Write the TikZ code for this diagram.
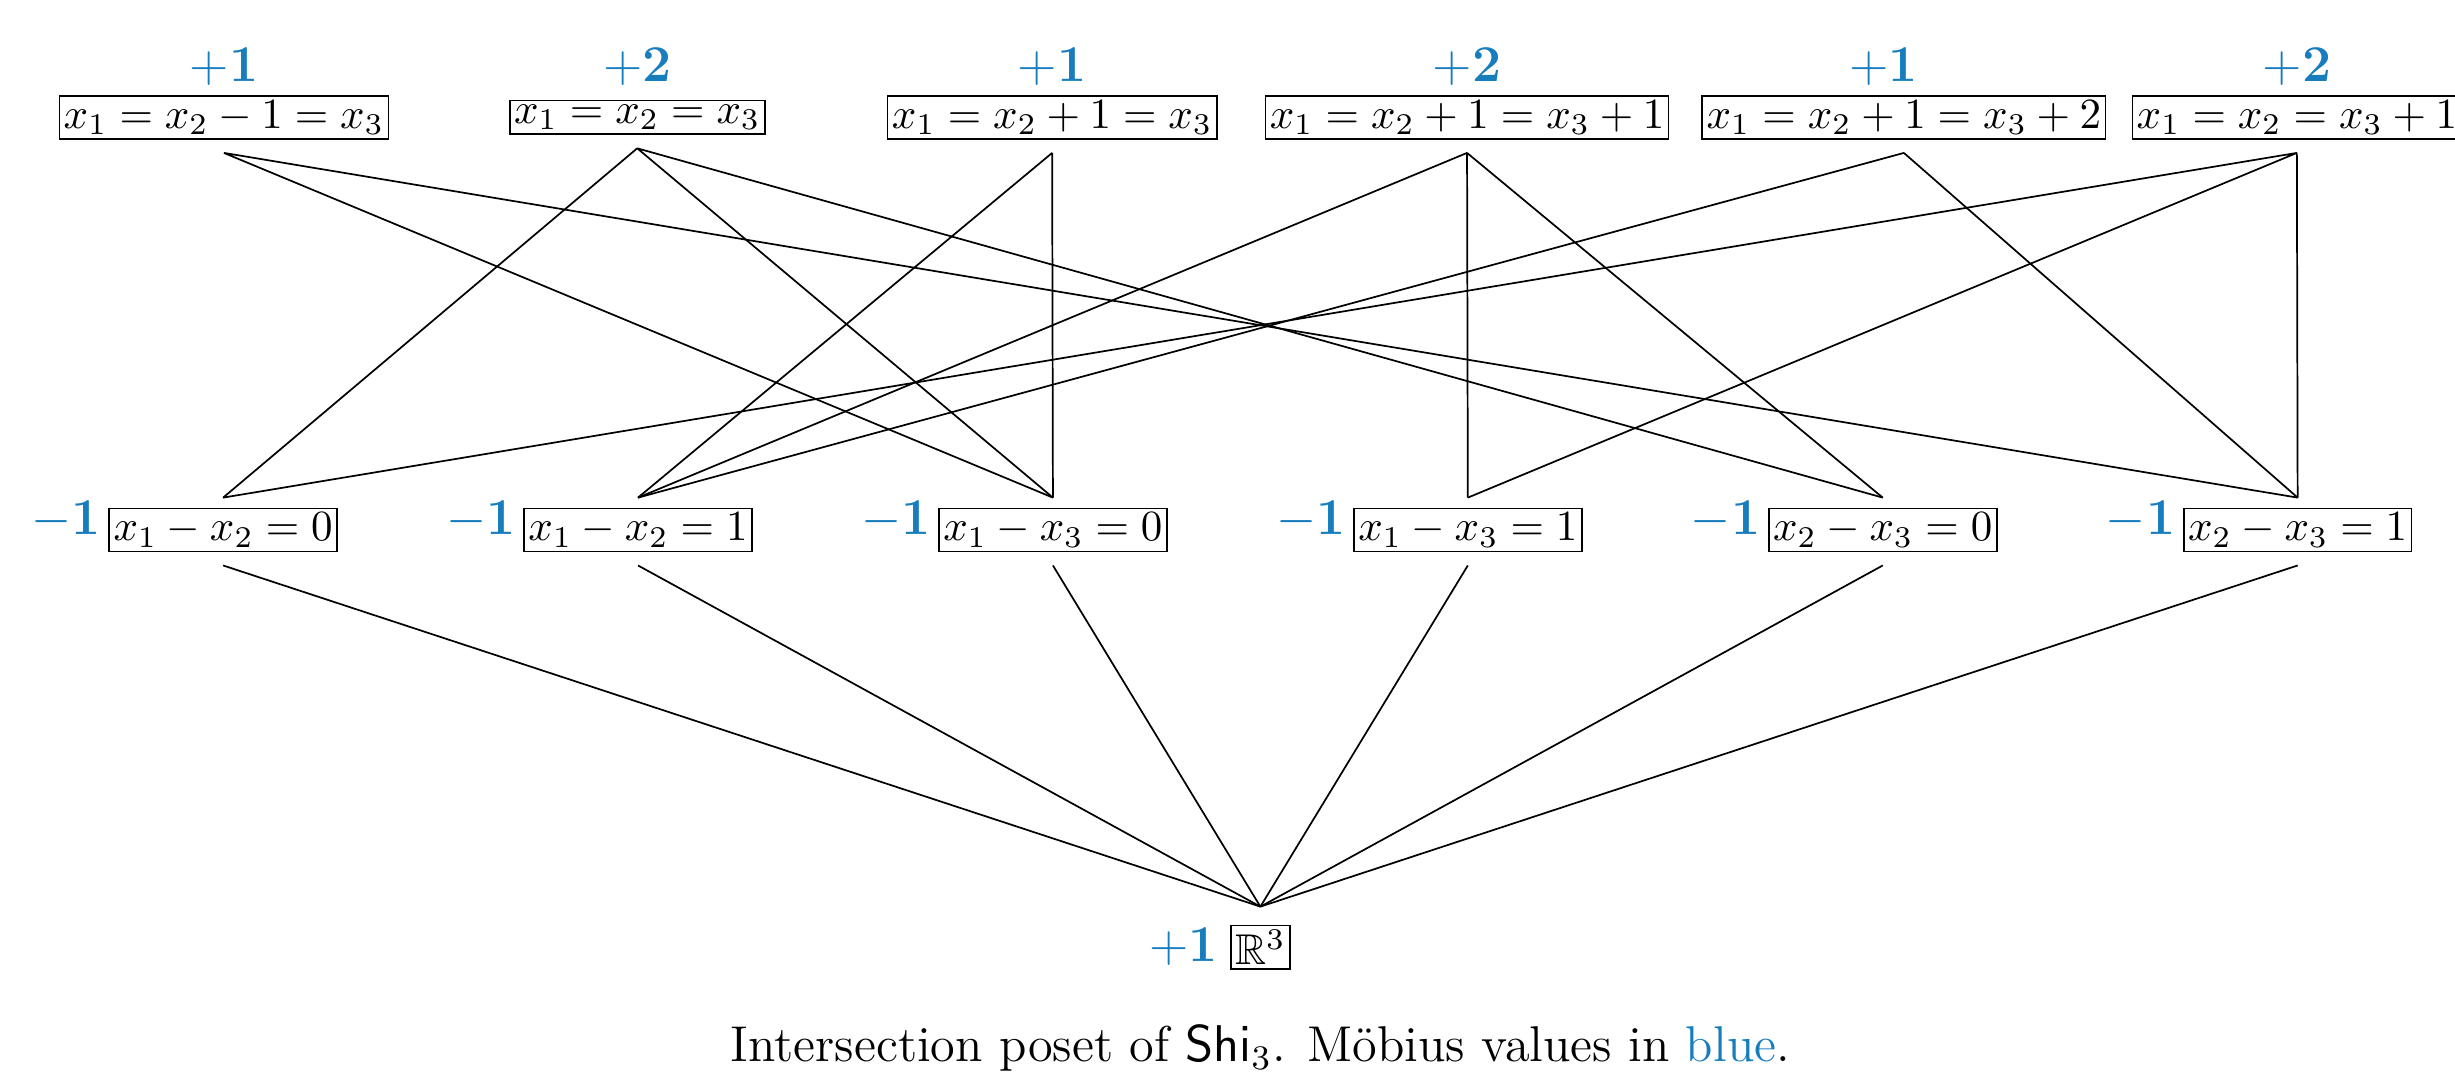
\documentclass[tikz,border=0pt]{standalone}
\usepackage{amssymb}
\usetikzlibrary{calc}
\definecolor{mblue}{RGB}{24,125,189}
\begin{document}
\begin{tikzpicture}[x=0.364pt,y=-0.364pt,
  poset/.style={draw, line width=0.4pt, inner sep=1pt, outer sep=0pt},
  mob/.style={text=mblue, font=\large, inner sep=0pt},
  edge/.style={line width=0.4pt}]
\useasboundingbox (0,0) rectangle (1568,690);
% top row
\node[poset] (T1) at (143,75) {$x_1=x_2-1=x_3$};
\node[poset] (T2) at (407,75) {$x_1=x_2=x_3$};
\node[poset] (T3) at (672,75) {$x_1=x_2+1=x_3$};
\node[poset] (T4) at (937,75) {$x_1=x_2+1=x_3+1$};
\node[poset] (T5) at (1216,75) {$x_1=x_2+1=x_3+2$};
\node[poset] (T6) at (1467,75) {$x_1=x_2=x_3+1$};
\node[mob, anchor=base] (LT1) at (143,52) {$+\mathbf{1}$};
\node[mob, anchor=base] (LT2) at (407,52) {$+\mathbf{2}$};
\node[mob, anchor=base] (LT3) at (672,52) {$+\mathbf{1}$};
\node[mob, anchor=base] (LT4) at (937,52) {$+\mathbf{2}$};
\node[mob, anchor=base] (LT5) at (1203,52) {$+\mathbf{1}$};
\node[mob, anchor=base] (LT6) at (1467,52) {$+\mathbf{2}$};
% middle row
\node[poset] (M1) at (142.5,338.5) {$x_1-x_2=0$};
\node[poset] (M2) at (407.5,338.5) {$x_1-x_2=1$};
\node[poset] (M3) at (672.5,338.5) {$x_1-x_3=0$};
\node[poset] (M4) at (937.5,338.5) {$x_1-x_3=1$};
\node[poset] (M5) at (1202.5,338.5) {$x_2-x_3=0$};
\node[poset] (M6) at (1467.5,338.5) {$x_2-x_3=1$};
\foreach \m in {M1,M2,M3,M4,M5,M6}{
  \node[mob, anchor=base east] (L\m) at ($(\m.base west)+(-5,-4)$) {$-\mathbf{1}$};
}
% bottom
\node[poset] (R) at (805,605) {$\mathbb{R}^3$};
\node[mob, anchor=base east] (LR) at ($(R.base west)+(-8,-2)$) {$+\mathbf{1}$};
% connector end points
\foreach \t in {T1,T2,T3,T4,T5,T6}{
  \coordinate (\t b) at ($(\t.south)+(0,9)$);
}
\foreach \m in {M1,M2,M3,M4,M5,M6}{
  \coordinate (\m t) at ($(\m.north)+(0,-7)$);
  \coordinate (\m b) at ($(\m.south)+(0,9)$);
}
\coordinate (Rt) at ($(R.north)+(0,-12)$);
% edges top -> middle
\draw[edge] (T1b) -- (M3t) (T1b) -- (M6t);
\draw[edge] (T2b) -- (M1t) (T2b) -- (M3t) (T2b) -- (M5t);
\draw[edge] (T3b) -- (M2t) (T3b) -- (M3t);
\draw[edge] (T4b) -- (M2t) (T4b) -- (M4t) (T4b) -- (M5t);
\draw[edge] (T5b) -- (M2t) (T5b) -- (M6t);
\draw[edge] (T6b) -- (M1t) (T6b) -- (M4t) (T6b) -- (M6t);
% edges middle -> bottom
\foreach \m in {M1,M2,M3,M4,M5,M6}{
  \draw[edge] (\m b) -- (Rt);
}
% caption
\node[anchor=base, font=\fontsize{11.7}{14}\selectfont, inner sep=0pt] (cap) at (805,678)
  {Intersection poset of $\mathsf{Shi}_3$. M\"obius values in \textcolor{mblue}{blue}.};
\end{tikzpicture}
\end{document}
